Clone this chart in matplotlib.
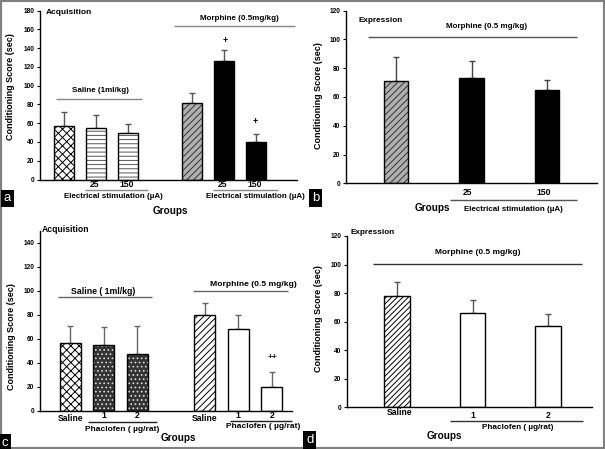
import matplotlib
matplotlib.use("Agg")
import matplotlib.pyplot as plt
import numpy as np
from matplotlib.patches import Rectangle

plt.rcParams["font.family"] = ["Liberation Sans", "DejaVu Sans"]
plt.rcParams["font.weight"] = "bold"
plt.rcParams["hatch.linewidth"] = 0.7

# Panel a: Acquisition, Saline / Morphine + electrical stimulation
a_pos = [0, 1, 2, 4, 5, 6]
a_means = [57, 55, 49, 82, 126, 39.5]
a_errs = [14.5, 14, 10.5, 10.5, 12, 8.5]
a_ticks = ["", "25", "150", "", "25", "150"]

# Panel b: Expression, Morphine + electrical stimulation
b_pos = [0, 1, 2]
b_means = [71, 73.4, 64.6]
b_errs = [17, 11.3, 7]
b_ticks = ["", "25", "150"]

# Panel c: Acquisition, Saline / Morphine + Phaclofen
c_pos = [0, 1, 2, 4, 5, 6]
c_means = [56.7, 55, 47, 80, 67.8, 20]
c_errs = [14, 15, 24, 9.4, 11.6, 12.5]
c_ticks = ["Saline", "1", "2", "Saline", "1", "2"]

# Panel d: Expression, Morphine + Phaclofen
d_pos = [0, 1, 2]
d_means = [78, 65.8, 57]
d_errs = [10, 9.5, 8.3]
d_ticks = ["Saline", "1", "2"]

W, H = 605, 449
fig = plt.figure(figsize=(W / 100, H / 100), dpi=100)


def add_panel(left, top, right, bottom):
    # Pixelkoordinaten -> Figure-Anteile
    return fig.add_axes([left / W, 1 - bottom / H, (right - left) / W, (bottom - top) / H])


def draw_bars(ax, pos, means, errs, width, faces, hatches, hatch_colors, ecolor="#555555"):
    ax.errorbar(pos, means, yerr=[np.zeros(len(errs)), errs], fmt="none",
                ecolor=ecolor, elinewidth=1, capsize=2, capthick=1, zorder=1)
    for x, m, fc, h, hc in zip(pos, means, faces, hatches, hatch_colors):
        ax.bar(x, m, width, color=fc, edgecolor=hc, hatch=h, linewidth=0, zorder=2)
        ax.bar(x, m, width, fill=False, edgecolor="black", linewidth=1, zorder=3)


def style(ax, top, ticks, xlim, label_xy):
    ax.set_xlim(*xlim)
    ax.set_ylim(0, top)
    ax.set_yticks(ticks)
    ax.set_xticks([])
    for s in ["top", "right"]:
        ax.spines[s].set_visible(False)
    for s in ["left", "bottom"]:
        ax.spines[s].set_linewidth(1)
    ax.tick_params(axis="y", labelsize=4.7, length=2.5, width=0.8, pad=1.5)
    ax.set_ylabel("Conditioning Score (sec)", fontsize=6.5, fontweight="bold")
    ax.yaxis.set_label_coords(*label_xy)


def hline(ax, x0, x1, y, color):
    ax.plot([x0, x1], [y, y], color=color, lw=1, clip_on=False, solid_capstyle="butt")


def put(ax, x, y, s, size=5.8, ha="center"):
    ax.text(x, y, s, ha=ha, va="center", fontsize=size, fontweight="bold", clip_on=False)


# ---- a ----
ax = add_panel(40, 10.5, 297, 179.5)
draw_bars(ax, a_pos, a_means, a_errs, 0.6,
          ["white", "white", "white", "#b0b0b0", "black", "black"],
          ["xxxx", "----", "----", "/////", "", ""],
          ["black", "#555555", "#555555", "#333333", "black", "black"])
style(ax, 180, np.arange(0, 181, 20), (-0.75, 7.28), (-0.099, 0.55))
put(ax, -0.56, 178, "Acquisition", 6, ha="left")
put(ax, 1.125, 95, "Saline (1ml/kg)")
hline(ax, -0.25, 2.44, 85.4, "#888888")
put(ax, 5.48, 171, "Morphine (0.5mg/kg)")
hline(ax, 3.44, 7.22, 164, "#888888")
put(ax, 5.03, 148, "+", 6.5)
put(ax, 5.97, 62, "+", 6.5)
for x, t in zip(a_pos, a_ticks):
    put(ax, x - 0.05, -4.8, t, 6.2)
hline(ax, 0.66, 2.63, -11.7, "#888888")
hline(ax, 4.66, 6.69, -11.7, "#888888")
put(ax, 1.53, -18, "Electrical stimulation (µA)")
put(ax, 5.97, -18, "Electrical stimulation (µA)")
put(ax, 3.31, -34, "Groups", 7.2)

# ---- b ----
ax = add_panel(346, 10.5, 597, 183.3)
draw_bars(ax, b_pos, b_means, b_errs, 0.32,
          ["#b0b0b0", "black", "black"],
          ["/////", "", ""],
          ["#333333", "black", "black"], ecolor="#444444")
style(ax, 120, np.arange(0, 121, 20), (-0.66, 2.66), (-0.092, 0.51))
put(ax, -0.50, 113, "Expression", 5.9, ha="left")
put(ax, 1.2, 108.7, "Morphine (0.5 mg/kg)")
hline(ax, -0.37, 2.39, 101.8, "#555555")
for x, t in zip(b_pos, b_ticks):
    put(ax, x - 0.05, -6.5, t, 6.2)
hline(ax, 0.71, 2.4, -11.6, "#555555")
put(ax, 1.55, -18, "Electrical stimulation (µA)")
put(ax, 0.48, -17, "Groups", 7.2)

# ---- c ----
ax = add_panel(40, 230.7, 292, 410.7)
draw_bars(ax, c_pos, c_means, c_errs, 0.63,
          ["white", "#333333", "#333333", "white", "white", "white"],
          ["xxxx", "....", "....", "/////", "", ""],
          ["black", "#dddddd", "#dddddd", "black", "black", "black"], ecolor="#666666")
style(ax, 150, np.arange(0, 141, 20), (-0.9, 6.6), (-0.094, 0.41))
put(ax, -0.85, 150.6, "Acquisition", 6.2, ha="left")
put(ax, 0.98, 99.7, "Saline ( 1ml/kg)", 6.3)
hline(ax, -0.375, 2.42, 95, "#666666")
put(ax, 5.45, 105.3, "Morphine (0.5 mg/kg)", 6.1)
hline(ax, 3.64, 6.49, 99.7, "#666666")
put(ax, 6.02, 44, "++", 6)
for x, t in zip(c_pos, c_ticks):
    put(ax, x, -6.3 if t == "Saline" else -3.6, t, 6.2)
hline(ax, 0.54, 2.57, -9.2, "#222222")
hline(ax, 4.75, 6.59, -8.6, "#222222")
put(ax, 1.56, -16, "Phaclofen ( µg/rat)", 6)
put(ax, 5.74, -13.3, "Phaclofen ( µg/rat)", 6)
put(ax, 3.21, -23, "Groups", 7.2)

# ---- d ----
ax = add_panel(347, 236, 592, 407.3)
draw_bars(ax, d_pos, d_means, d_errs, 0.34,
          ["white", "white", "white"],
          ["//////", "", ""],
          ["black", "black", "black"])
style(ax, 120, np.arange(0, 121, 20), (-0.66, 2.58), (-0.098, 0.52))
put(ax, -0.62, 122.8, "Expression", 5.9, ha="left")
put(ax, 1.07, 108.4, "Morphine (0.5 mg/kg)", 6)
hline(ax, -0.32, 2.45, 100.7, "#333333")
for x, t in zip(d_pos, d_ticks):
    put(ax, x + (0.04 if t == "Saline" else 0), -3.8 if t == "Saline" else -5.4, t, 6.2)
hline(ax, 0.70, 2.46, -9.6, "#333333")
put(ax, 1.6, -14, "Phaclofen ( µg/rat)", 5.9)
put(ax, 0.63, -20, "Groups", 7.2)

# Panel-Buchstaben in schwarzen Kaestchen
for x, y, s in [(4, 198.5, "a"), (312, 198, "b"), (2, 443, "c"), (306, 440, "d")]:
    fig.text(x / W, 1 - y / H, s, color="white", fontsize=9.5, fontweight="normal",
             ha="left", va="center",
             bbox=dict(facecolor="black", edgecolor="none", pad=1.8))

# grauer Rahmen um die ganze Abbildung
fig.add_artist(Rectangle((0, 0), 1, 1, transform=fig.transFigure, fill=False,
                         edgecolor="#808080", linewidth=3))

fig.savefig("out.png", dpi=100)
